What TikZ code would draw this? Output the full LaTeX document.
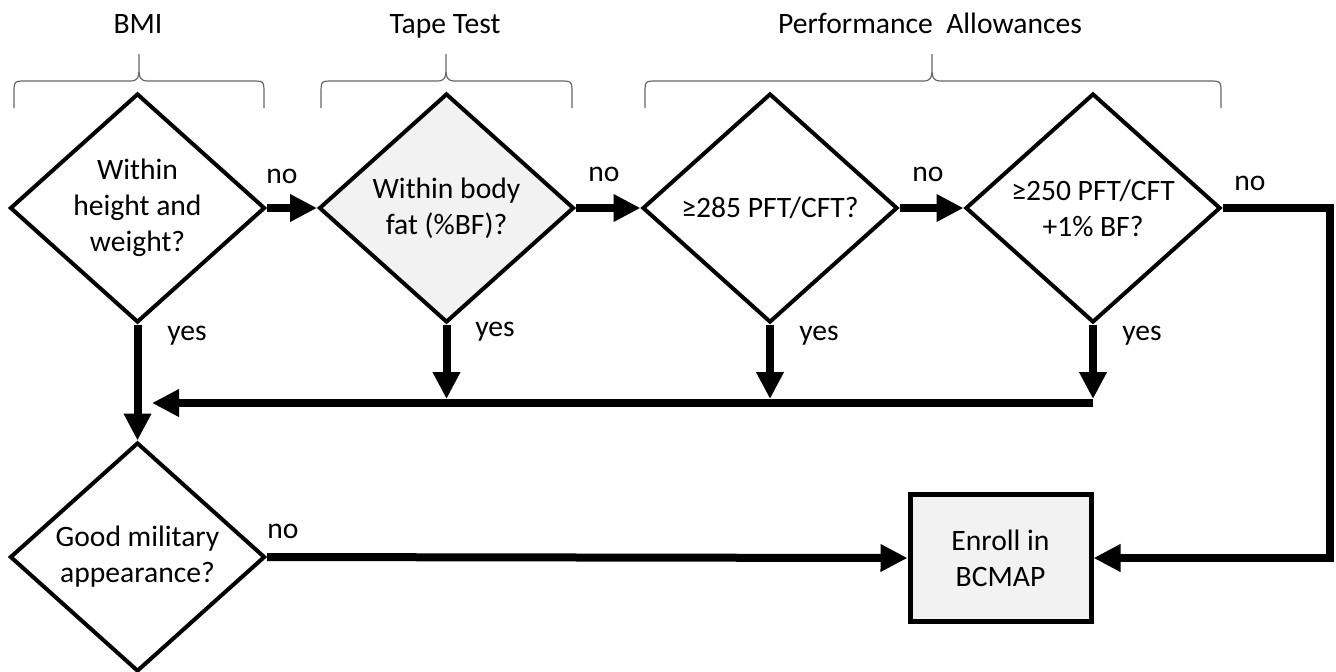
\documentclass[tikz,border=0pt]{standalone}
\usepackage{fontspec}
\setmainfont{Carlito}
\usetikzlibrary{arrows.meta,shapes.geometric}
\def\groupbrace(#1:#2:#3){\draw[brace] (#1, 108) -- (#1, 94) .. controls (#1, 81) .. ({#1+12}, 81) -- ({#3-9}, 81) .. controls ({#3-1}, 81) and (#3, 77) .. (#3, 70) -- (#3, 54) (#3, 70) .. controls (#3, 77) and ({#3+1}, 81) .. ({#3+9}, 81) -- ({#2-12}, 81) .. controls (#2, 81) .. (#2, 94) -- (#2, 108);}

\begin{document}
\begin{tikzpicture}[x=0.5pt, y=-0.5pt,
		txt/.style={font=\fontsize{14.8}{18}\selectfont},
		lbl/.style={txt, anchor=base},
		decision/.style={txt, diamond, draw, line width=2pt, minimum width=127.5pt, minimum height=114.5pt, inner sep=0pt, align=center},
		flow/.style={line width=4pt, -{Triangle[length=13.5pt, width=13pt]}},
		brace/.style={line width=0.6pt, color=black!60}]
		%%%%% START %%%%%
		
		\useasboundingbox (0, 0) rectangle (1336, 671);
		
		\node[lbl] (hbmi) at (138, 33) {BMI};
		\node[lbl] (htape) at (445, 33) {Tape Test};
		\node[lbl] (hperf) at (930, 33) {Performance\ \ Allowances};
		\groupbrace(14:264:139)
		\groupbrace(321:572:446)
		\groupbrace(645:1221:932)
		
		\node[decision] (bmi) at (137.5, 208) {Within\\height and\\weight?};
		\node[decision, fill=black!5] (tape) at (446.5, 208) {Within body\\fat (\%BF)?};
		\node[decision] (pft285) at (770, 208) {≥285 PFT/CFT?};
		\node[decision] (pft250) at (1093, 208) {≥250 PFT/CFT\\+1\% BF?};
		\node[decision] (appear) at (137.5, 557) {Good military\\appearance?};
		\node[txt, draw, line width=2.5pt, fill=black!5, minimum width=90.5pt, minimum height=63.5pt, align=center] (enroll) at (1000.5, 558) {Enroll in\\BCMAP};
		
		\draw[flow] (bmi.east) -- (tape.west);
		\draw[flow] (tape.east) -- (pft285.west);
		\draw[flow] (pft285.east) -- (pft250.west);
		\draw[flow] (pft250.east) -- ++(107, 0) |- (enroll.east);
		\draw[flow] (bmi.south) -- (appear.north);
		\draw[flow] (appear.east) -- (enroll.west);
		
		\coordinate (barR) at (1093, 403);
		\coordinate (barL) at (152, 403);
		\draw[flow] (barR) -- (barL);
		\draw[flow, shorten >=2pt] (tape.south) -- (tape.south |- barR);
		\draw[flow, shorten >=2pt] (pft285.south) -- (pft285.south |- barR);
		\draw[flow, shorten >=2pt] (pft250.south) -- (barR);
		
		\node[lbl] (no1) at (282, 183) {no};
		\node[lbl] (no2) at (604, 181) {no};
		\node[lbl] (no3) at (928, 181) {no};
		\node[lbl] (no4) at (1250, 190) {no};
		\node[lbl] (no5) at (283, 538) {no};
		\node[lbl] (yes1) at (187, 340) {yes};
		\node[lbl] (yes2) at (495, 336) {yes};
		\node[lbl] (yes3) at (819, 340) {yes};
		\node[lbl] (yes4) at (1142, 340) {yes};
		
		%%%%% END %%%%%
	\end{tikzpicture}
\end{document}
